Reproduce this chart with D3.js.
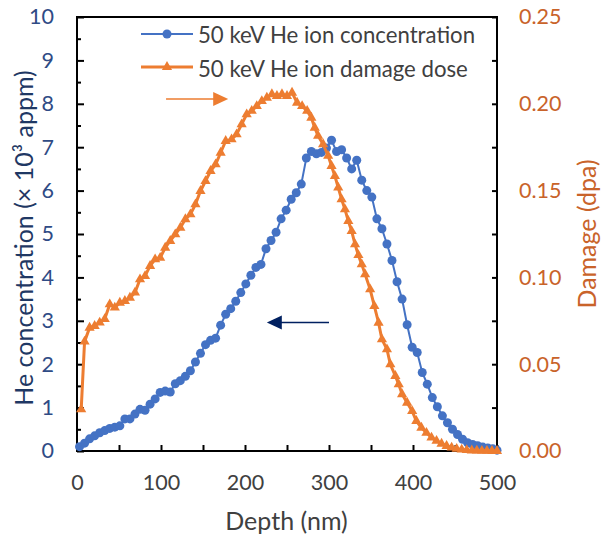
<!DOCTYPE html>
<html><head><meta charset="utf-8">
<script src="https://cdn.jsdelivr.net/npm/d3@7"></script>
<style>
body{margin:0;background:#fff;}
svg{display:block;font-family:Lato,"Open Sans",sans-serif;}
</style></head>
<body><svg id="c" width="605" height="544"></svg>
<script>
// Depth (nm) and He concentration (x10^3 appm)
const heDepth = [3,9,15,21,27,33,39,45,51,57,63,69,75,81,87,93,99,105,111,117,123,129,135,141,147,153,159,165,171,177,183,189,195,201,207,213,219,225,231,237,243,249,255,261,267,273,279,285,291,297,303,309,315,321,327,333,339,345,351,357,363,369,375,381,387,393,399,405,411,417,423,429,435,441,447,453,459,465,471,477,483,489,495,500];
const heConc = [0.1,0.18,0.28,0.35,0.42,0.47,0.52,0.55,0.58,0.74,0.74,0.85,0.96,0.94,1.08,1.2,1.35,1.38,1.36,1.55,1.62,1.72,1.85,2.05,2.25,2.45,2.55,2.6,2.9,3.15,3.28,3.45,3.65,3.85,4.05,4.23,4.3,4.66,4.85,5.04,5.35,5.55,5.8,5.95,6.15,6.75,6.9,6.85,6.88,6.98,7.16,6.9,6.94,6.75,6.5,6.7,6.24,6.0,5.85,5.35,5.12,4.77,4.39,3.9,3.5,2.91,2.39,2.27,1.81,1.54,1.23,1.02,0.81,0.65,0.5,0.38,0.27,0.19,0.15,0.12,0.09,0.07,0.05,0.02];
// Depth (nm) and damage (dpa)
const dmgDepth = [5,9,15,21,27,33,39,45,51,57,63,69,75,81,87,93,99,105,111,117,123,129,135,141,147,153,159,165,171,177,184,190,196,202,208,214,220,226,232,238,244,250,256,262,268,274,279,283,287,293,299,303,307,311,315,319,323,327,331,335,339,343,349,354,359,363,369,373,379,383,387,393,399,404,410,416,422,428,434,440,446,452,458,464,470,476,482,488,494,500];
const dmgDose = [0.024,0.063,0.071,0.072,0.074,0.076,0.0845,0.0826,0.0854,0.0864,0.0883,0.0912,0.0989,0.1008,0.1066,0.1104,0.1113,0.1171,0.121,0.1248,0.1286,0.1335,0.1363,0.1421,0.1498,0.1555,0.1613,0.1651,0.1718,0.1786,0.1795,0.1824,0.1882,0.1939,0.1959,0.1987,0.2016,0.2035,0.2055,0.2045,0.2055,0.2045,0.2064,0.2006,0.1987,0.1959,0.192,0.1862,0.1815,0.1767,0.17,0.1642,0.1584,0.1517,0.145,0.1392,0.1325,0.1267,0.119,0.1128,0.1075,0.1018,0.0931,0.0835,0.0739,0.0643,0.0586,0.0499,0.0432,0.0384,0.0327,0.0278,0.023,0.0173,0.0134,0.0105,0.0077,0.0058,0.0042,0.0029,0.002,0.0012,0.0008,0.0005,0.0003,0.0002,0.0001,0.0001,0,0];
const xTicks = [0,100,200,300,400,500];
const yLeftTicks = [0,1,2,3,4,5,6,7,8,9,10];
const yRightTicks = [0,0.05,0.10,0.15,0.20,0.25];
const seriesNames = ["50 keV He ion concentration","50 keV He ion damage dose"];
const xTitle = "Depth (nm)";
const yLeftTitle = "He concentration (× 10³ appm)";
const yRightTitle = "Damage (dpa)";

const BLUE="#4472C4", ORANGE="#ED7D31", NAVY="#1F3864", NAVYTXT="#2F4B85", ORTXT="#C9632A", GRAY="#404040";
const L=77,R=497,T=17,B=451;
const svg=d3.select("#c");
const x=d3.scaleLinear().domain([0,500]).range([L,R]);
const y=d3.scaleLinear().domain([0,10]).range([B,T]);
const y2=d3.scaleLinear().domain([0,0.25]).range([B,T]);

// frame
svg.append("rect").attr("x",L).attr("y",T).attr("width",R-L).attr("height",B-T)
  .attr("fill","none").attr("stroke","#000").attr("stroke-width",2);

// x axis
const gx=svg.append("g").attr("transform",`translate(0,${B})`)
  .call(d3.axisBottom(x).tickValues(d3.range(0,501,50)).tickSize(-6).tickPadding(24)
    .tickFormat(d=>xTicks.includes(d)?d:""));
gx.select(".domain").remove();
gx.selectAll("line").attr("stroke","#000").attr("stroke-width",2);
gx.selectAll("text").attr("font-size",21.5).attr("fill",GRAY).attr("font-family","Lato");

// left axis
const gy=svg.append("g").attr("transform",`translate(${L},0)`)
  .call(d3.axisLeft(y).tickValues(d3.range(0,10.01,0.5)).tickSize(-7).tickPadding(23)
    .tickFormat(d=>yLeftTicks.includes(d)?d:""));
gy.select(".domain").remove();
gy.selectAll("line").attr("stroke","#000").attr("stroke-width",2)
  .attr("x2",d=>Number.isInteger(d)?7:4);
gy.selectAll("text").attr("font-size",21.5).attr("fill",NAVYTXT).attr("font-family","Lato");

// right axis
const gr=svg.append("g").attr("transform",`translate(${R},0)`)
  .call(d3.axisRight(y2).tickValues(d3.range(0,0.2501,0.025)).tickSize(-5).tickPadding(22)
    .tickFormat(d=>yRightTicks.some(t=>Math.abs(t-d)<1e-9)?d3.format(".2f")(d):""));
gr.select(".domain").remove();
gr.selectAll("line").attr("stroke","#000").attr("stroke-width",2);
gr.selectAll("text").attr("font-size",21.5).attr("fill",ORTXT).attr("font-family","Lato");

// titles
svg.append("text").attr("x",286.5).attr("y",530).attr("text-anchor","middle")
  .attr("font-size",25).attr("fill",GRAY).text(xTitle);
svg.append("text").attr("transform",`translate(33,238) rotate(-90)`).attr("text-anchor","middle")
  .attr("font-size",25).attr("fill",NAVY).text(yLeftTitle);
svg.append("text").attr("transform",`translate(596,234) rotate(-90)`).attr("text-anchor","middle")
  .attr("font-size",25).attr("fill",ORTXT).text(yRightTitle);

// series
const heData=heDepth.map((d,i)=>[d,heConc[i]]);
const dmgData=dmgDepth.map((d,i)=>[d,dmgDose[i]]);
svg.append("path").datum(heData).attr("fill","none").attr("stroke",BLUE).attr("stroke-width",2)
  .attr("d",d3.line().x(d=>x(d[0])).y(d=>y(d[1])));
svg.append("g").selectAll("circle").data(heData).join("circle")
  .attr("cx",d=>x(d[0])).attr("cy",d=>y(d[1])).attr("r",4.5).attr("fill",BLUE);

svg.append("path").datum(dmgData).attr("fill","none").attr("stroke",ORANGE).attr("stroke-width",3)
  .attr("d",d3.line().x(d=>x(d[0])).y(d=>y2(d[1])));
const tri=d3.symbol().type(d3.symbolTriangle).size(45);
svg.append("g").selectAll("path").data(dmgData).join("path")
  .attr("transform",d=>`translate(${x(d[0])},${y2(d[1])})`).attr("d",tri).attr("fill",ORANGE);

// legend
const lg=svg.append("g");
[[BLUE,2,"c",34,43],[ORANGE,3,"t",67,77]].forEach((s,i)=>{
  lg.append("line").attr("x1",141).attr("x2",193).attr("y1",s[3]).attr("y2",s[3])
    .attr("stroke",s[0]).attr("stroke-width",s[1]);
  if(s[2]==="c") lg.append("circle").attr("cx",167).attr("cy",s[3]).attr("r",4.5).attr("fill",s[0]);
  else lg.append("path").attr("transform",`translate(167,${s[3]})`).attr("d",tri).attr("fill",s[0]);
  lg.append("text").attr("x",198).attr("y",s[4]).attr("font-size",22.2).attr("fill",GRAY).text(seriesNames[i]);
});

// arrows
function arrow(x1,x2,yy,col){
  const dir=Math.sign(x2-x1);
  svg.append("line").attr("x1",x1).attr("x2",x2-dir*14).attr("y1",yy).attr("y2",yy)
    .attr("stroke",col).attr("stroke-width",1.5);
  svg.append("path").attr("d",`M${x2},${yy}L${x2-dir*15},${yy-7}L${x2-dir*15},${yy+7}Z`).attr("fill",col);
}
arrow(x(106),x(180),99,ORANGE);
arrow(x(300),x(226),322.5,"#002060");
</script></body></html>
